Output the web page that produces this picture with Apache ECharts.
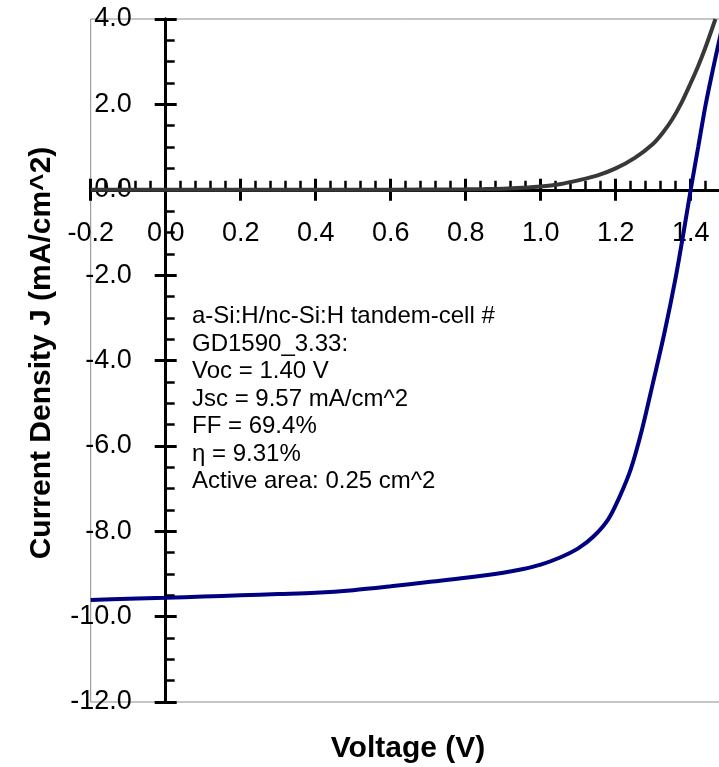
<!DOCTYPE html>
<html>
<head>
<meta charset="utf-8">
<script src="https://cdn.jsdelivr.net/npm/echarts@6/dist/echarts.min.js"></script>
<style>html,body{margin:0;padding:0;background:#fff;}#c{width:719px;height:767px;}</style>
</head>
<body>
<div id="c"></div>
<script>
// Voltage (V) and current density (mA/cm^2)
const darkV = [-0.2, 0.0, 0.2, 0.4, 0.6, 0.8, 0.85, 0.9, 0.95, 1.0, 1.05, 1.1, 1.15, 1.2, 1.25, 1.3, 1.325, 1.35, 1.375, 1.4, 1.42, 1.44, 1.466];
const darkJ = [0.0, 0.0, 0.0, 0.0, 0.0, 0.01, 0.015, 0.025, 0.045, 0.075, 0.13, 0.22, 0.33, 0.5, 0.74, 1.08, 1.33, 1.64, 2.03, 2.5, 2.9, 3.35, 4.0];
const lightV = [-0.2, -0.1, 0.0, 0.1, 0.2, 0.3, 0.4, 0.5, 0.6, 0.7, 0.8, 0.9, 0.95, 1.0, 1.05, 1.1, 1.14, 1.18, 1.21, 1.24, 1.27, 1.3, 1.33, 1.36, 1.38, 1.4, 1.42, 1.44, 1.46, 1.48, 1.5];
const lightJ = [-9.61, -9.58, -9.56, -9.53, -9.50, -9.47, -9.44, -9.38, -9.29, -9.19, -9.09, -8.97, -8.89, -8.78, -8.62, -8.40, -8.13, -7.72, -7.20, -6.55, -5.62, -4.50, -3.35, -2.05, -1.05, 0.0, 1.0, 2.0, 2.85, 3.65, 4.45];
const infoLines = [
  'a-Si:H/nc-Si:H tandem-cell #',
  'GD1590_3.33:',
  'Voc = 1.40 V',
  'Jsc = 9.57 mA/cm^2',
  'FF = 69.4%',
  '\u03b7 = 9.31%',
  'Active area: 0.25 cm^2'
];
const xTitle = 'Voltage (V)';
const yTitle = 'Current Density J (mA/cm^2)';

const FONT = '"Liberation Sans", Arial, Helvetica, sans-serif';
const GRID = {left: 90.7, top: 19, width: 675, height: 683};
const chart = echarts.init(document.getElementById('c'), null, {renderer: 'canvas'});

function zip(a, b) { return a.map((v, i) => [v, b[i]]); }
const fmt = v => v.toFixed(1);

const xBase = {
  type: 'value', min: -0.2, max: 1.6, interval: 0.2, gridIndex: 0, position: 'bottom',
  splitLine: {show: false}
};
const yBase = {
  type: 'value', min: -12, max: 4, interval: 2, gridIndex: 0, position: 'left',
  splitLine: {show: false}
};
const lineStyleAxis = {show: true, onZero: false, lineStyle: {color: '#000', width: 3}};

chart.setOption({
  animation: false,
  grid: Object.assign({
    show: true, borderColor: '#8c8c8c', borderWidth: 1, backgroundColor: 'transparent',
    containLabel: false, outerBoundsMode: 'none'
  }, GRID),
  xAxis: [
    Object.assign({}, xBase, {
      axisLine: lineStyleAxis,
      axisTick: {show: true, inside: true, length: 11, lineStyle: {color: '#000', width: 3}},
      minorTick: {show: true, splitNumber: 5, length: 9, lineStyle: {color: '#000', width: 2.5}},
      axisLabel: {show: true, margin: 30, fontSize: 27, color: '#000', fontFamily: FONT, formatter: fmt, showMaxLabel: false}
    }),
    Object.assign({}, xBase, {
      axisLine: lineStyleAxis,
      axisTick: {show: true, inside: false, length: 11, lineStyle: {color: '#000', width: 3}},
      minorTick: {show: false},
      axisLabel: {show: false}
    })
  ],
  yAxis: [
    Object.assign({}, yBase, {
      axisLine: lineStyleAxis,
      axisTick: {show: true, inside: true, length: 11, lineStyle: {color: '#000', width: 3}},
      minorTick: {show: true, splitNumber: 4, length: 9, lineStyle: {color: '#000', width: 2.5}},
      axisLabel: {show: true, margin: 34, fontSize: 27, color: '#000', fontFamily: FONT, formatter: fmt}
    }),
    Object.assign({}, yBase, {
      axisLine: lineStyleAxis,
      axisTick: {show: true, inside: false, length: 11, lineStyle: {color: '#000', width: 3}},
      minorTick: {show: false},
      axisLabel: {show: false}
    })
  ],
  series: [
    {
      type: 'line', name: 'dark', xAxisIndex: 0, yAxisIndex: 0,
      data: zip(darkV, darkJ), showSymbol: false, smooth: 0.3, clip: true,
      lineStyle: {color: '#383838', width: 4}, itemStyle: {color: '#383838'}, z: 3
    },
    {
      type: 'line', name: 'light', xAxisIndex: 0, yAxisIndex: 0,
      data: zip(lightV, lightJ), showSymbol: false, smooth: 0.3, clip: true,
      lineStyle: {color: '#000080', width: 4}, itemStyle: {color: '#000080'}, z: 3
    }
  ],
  graphic: [
    {
      type: 'text', x: 192, y: 303,
      style: {
        text: infoLines.join('\n'), font: '24px ' + FONT, fill: '#000',
        lineHeight: 27.5, align: 'left', verticalAlign: 'top', textAlign: 'left', textVerticalAlign: 'top'
      }
    },
    {
      type: 'text', x: 408, y: 749,
      style: {
        text: xTitle, font: 'bold 30px ' + FONT, fill: '#000',
        align: 'center', verticalAlign: 'middle', textAlign: 'center', textVerticalAlign: 'middle'
      }
    },
    {
      type: 'text', x: 42, y: 353, rotation: Math.PI / 2,
      style: {
        text: yTitle, font: 'bold 30px ' + FONT, fill: '#000',
        align: 'center', verticalAlign: 'middle', textAlign: 'center', textVerticalAlign: 'middle'
      }
    }
  ]
});

// Move the axes onto the zero lines of the other axis (positions from the library's scales)
const zeroX = chart.convertToPixel({xAxisIndex: 0}, 0);
const zeroY = chart.convertToPixel({yAxisIndex: 0}, 0);
const offX = zeroY - (GRID.top + GRID.height);
const offY = GRID.left - zeroX;
chart.setOption({
  xAxis: [{offset: offX}, {offset: offX}],
  yAxis: [{offset: offY}, {offset: offY}]
});
</script>
</body>
</html>
